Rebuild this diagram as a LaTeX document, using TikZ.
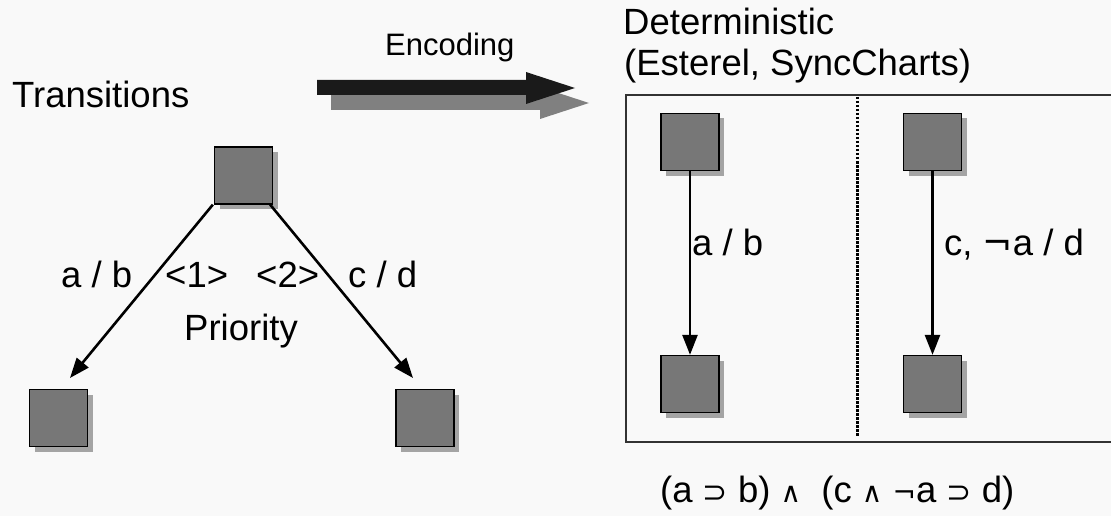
\documentclass[tikz,border=0pt]{standalone}
\usepackage{fontspec}
\setmainfont{Liberation Sans}
\newfontfamily\symf{DejaVu Sans}
\usetikzlibrary{arrows.meta,shadows}

\definecolor{bgpaper}{HTML}{F9F9F9}
\definecolor{statefill}{HTML}{777777}
\definecolor{stateshadow}{HTML}{A4A4A4}
\definecolor{arrowdark}{HTML}{1A1A1A}
\definecolor{arrowshade}{HTML}{808080}

\newcommand\opsym[2]{{\fontsize{#1}{#1}\symf #2}}

\tikzset{
  statebox/.style={draw=black, line width=1.3, fill=statefill,
    minimum width=58, minimum height=57, inner sep=0,
    drop shadow={shadow xshift=5pt, shadow yshift=-5pt, fill=stateshadow, opacity=1}},
  trans/.style={line width=2.6, -{Triangle[length=20pt,width=15pt]}},
  lbl/.style={anchor=base west, inner sep=0, font=\fontsize{36.5}{44}\selectfont},
}

\begin{document}
\begin{tikzpicture}[x=1pt, y=-1pt]
  \fill[bgpaper] (0,0) rectangle (1111,516);
  \useasboundingbox (0,0) rectangle (1111,516);

  % ---- left part: prioritised transitions
  \node[lbl] (ttl) at (12,108) {Transitions};
  \node[statebox] (top) at (243.5,175.5) {};
  \node[statebox] (bl)  at (58.5,418) {};
  \node[statebox] (br)  at (425,418) {};
  \coordinate (blin) at (70,378);
  \coordinate (brin) at (413,378);
  \draw[trans] ([xshift=-1pt]top.south west) -- (blin);
  \draw[trans] ([xshift=-3pt]top.south east) -- (brin);
  \node[lbl] (lab) at (61,287) {a / b};
  \node[lbl] (p1)  at (165,287) {<1>};
  \node[lbl] (p2)  at (256,287) {<2>};
  \node[lbl] (lcd) at (348,287) {c / d};
  \node[lbl] (prio) at (184,340) {Priority};

  % ---- encoding arrow with its shade
  \fill[arrowshade] (331,95) -- (540,95) -- (540,87) -- (589,103)
        -- (540,119) -- (540,110) -- (331,110) -- cycle;
  \fill[arrowdark] (317,80) -- (526,80) -- (526,72) -- (575,88)
        -- (526,104) -- (526,95) -- (317,95) -- cycle;
  \node[lbl, font=\fontsize{31}{37}\selectfont] (enc) at (385,56) {Encoding};

  % ---- right part: deterministic encoding
  \node[lbl] (det) at (623,35) {Deterministic};
  \node[lbl] (est) at (624,76) {(Esterel, SyncCharts)};
  \draw[line width=1.3, black!80] (626,95) rectangle (1114,442);
  \draw[line width=3, dash pattern=on 2.5pt off 1.5pt] (857.5,97) -- (857.5,436);

  \node[statebox] (rtl) at (690,142) {};
  \node[statebox] (rbl) at (690,384) {};
  \node[statebox] (rtr) at (932.5,142) {};
  \node[statebox] (rbr) at (932.5,384) {};
  \draw[trans] (rtl.south) -- (rbl.north);
  \draw[trans] (rtr.south) -- (rbr.north);
  \node[lbl] (rab) at (692,255) {a / b};
  \node[lbl] (rcd) at (944,255) {c, \opsym{36}{¬}a / d};

  \node[lbl] (frm) at (660,502) {(a \opsym{30}{⊃} b) \opsym{28}{∧} \ (c \opsym{28}{∧} \opsym{28}{¬}a \opsym{30}{⊃} d)};
\end{tikzpicture}
\end{document}
